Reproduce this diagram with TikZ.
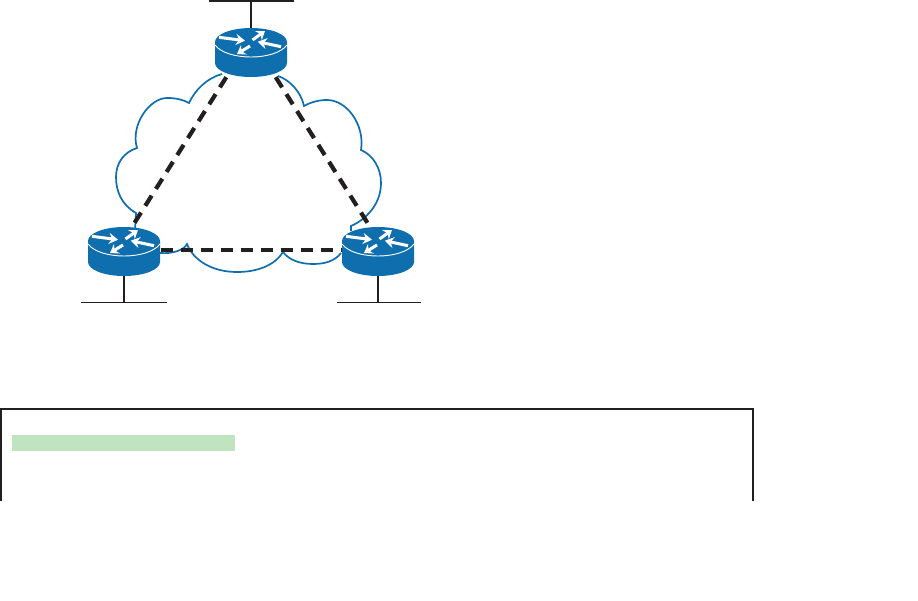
\documentclass[tikz,border=0pt]{standalone}
\usetikzlibrary{arrows.meta}

\definecolor{routerblue}{HTML}{0E6EAE}
\definecolor{linkblack}{HTML}{231F20}
\definecolor{barlime}{HTML}{C0E4C0}

\tikzset{
    routerbox/.style={
        minimum width=73pt, minimum height=49pt, inner sep=0pt,
        path picture={
            \begin{scope}[shift={(path picture bounding box.center)}]
                \fill [routerblue] (-36,-10.5) -- (-36,10.5) arc [start angle=180, end angle=0, x radius=36, y radius=14]
                    -- (36,-10.5) arc [start angle=0, end angle=-180, x radius=36, y radius=14] -- cycle;
                \draw [white, line width=0.9pt] (-36,-7.5) .. controls (-24,8.5) and (24,8.5) .. (36,-7.5);
                \draw [white, line width=3pt, -{Stealth[length=9pt,width=11pt]}] (-32,-15.2) -- (-6,-11.8);
                \draw [white, line width=3pt, -{Stealth[length=8pt,width=11pt]}] (1.5,-12.5) -- (14,-21.5);
                \draw [white, line width=3pt, -{Stealth[length=9pt,width=11pt]}] (30,-5.8) -- (6.7,-10.8);
                \draw [white, line width=3pt, -{Stealth[length=8pt,width=11pt]}] (-1,-6.5) -- (-14,1.5);
            \end{scope}
        }},
    dashlink/.style={linkblack, line width=4.2pt, dash pattern=on 12pt off 8pt},
    lanline/.style={linkblack, line width=1.9pt},
    cloudline/.style={routerblue, line width=1.7pt, line join=miter},
    framebox/.style={linkblack, line width=2pt}
}

\begin{document}
\begin{tikzpicture}[x=1pt, y=-1pt]
    \useasboundingbox (0,0) rectangle (918,600);

    \draw [cloudline] (135,230) -- (136,213)
        .. controls (122,205) and (116,192) .. (116,177)
        .. controls (116,163) and (124,152) .. (137,148)
        .. controls (130,125) and (150,97) .. (168,98)
        .. controls (176,98) and (184,100) .. (189,103)
        .. controls (195,90) and (207,78) .. (222,74);
    \draw [cloudline] (278,76)
        .. controls (290,80) and (301,92) .. (304,106)
        .. controls (311,102) and (319,100) .. (327,100)
        .. controls (347,100) and (365,125) .. (361,150)
        .. controls (373,155) and (381,168) .. (381,183)
        .. controls (381,205) and (365,220) .. (351,226) -- (351,231);
    \draw [cloudline] (341,253)
        .. controls (335,261) and (325,264) .. (313,264)
        .. controls (300,264) and (289,260) .. (283,252)
        .. controls (275,265) and (258,272) .. (237,272)
        .. controls (212,272) and (193,260) .. (187,244)
        .. controls (184,250) and (173,254) .. (160,253);

    \path (251, 52.5) node [routerbox] (rt) {};
    \path (124, 251.5) node [routerbox] (rl) {};
    \path (378, 251.5) node [routerbox] (rr) {};

    \draw [dashlink] (rt.225) -- (rl.72);
    \draw [dashlink] (rt.-45) -- (rr.108);
    \draw [dashlink] (rl.2) -- (rr.178);

    \coordinate (bt) at (251, 1);
    \coordinate (btw) at (209, 1);
    \coordinate (bte) at (294, 1);
    \draw [lanline] (rt.north) -- (bt);
    \draw [lanline] (btw) -- (bte);

    \coordinate (bl) at (124, 302.5);
    \coordinate (blw) at (81, 302.5);
    \coordinate (ble) at (167, 302.5);
    \draw [lanline] (rl.south) -- (bl);
    \draw [lanline] (blw) -- (ble);

    \coordinate (br) at (378, 302.5);
    \coordinate (brw) at (337, 302.5);
    \coordinate (bre) at (421, 302.5);
    \draw [lanline] (rr.south) -- (br);
    \draw [lanline] (brw) -- (bre);

    \draw [framebox] (1,500.5) -- (1,409) -- (752.5,409) -- (752.5,500.5);
    \fill [barlime] (12,435) rectangle (235,451);
\end{tikzpicture}
\end{document}
